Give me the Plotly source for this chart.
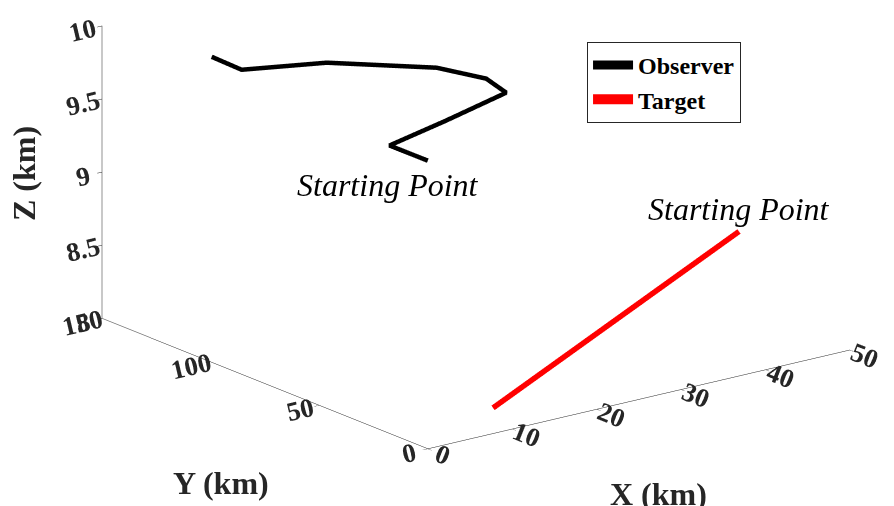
import plotly.graph_objects as go

# Observer trajectory (km), first point = starting point
obs_x = [26.5, 25.1, 31.2, 35.5, 33.9, 29.5, 19.5, 9.9, 7.9]
obs_y = [103.0, 115.2, 113.0, 101.9, 104.9, 110.6, 122.3, 124.2, 130.2]
obs_z = [9.00, 9.05, 9.15, 9.35, 9.45, 9.55, 9.65, 9.72, 9.80]

# Target trajectory (km), first point = starting point
tgt_x = [42.0, 12.5]
tgt_y = [20.0, 18.6]
tgt_z = [8.8, 8.0]

x_ticks = [0, 10, 20, 30, 40, 50]
y_ticks = [0, 50, 100, 150]
z_ticks = [8, 8.5, 9, 9.5, 10]

FONT = "Liberation Serif"
AX = "#262626"

fig = go.Figure()
fig.add_trace(go.Scatter3d(x=obs_x, y=obs_y, z=obs_z, mode="lines",
                           line=dict(color="black", width=9), name="Observer",
                           hoverinfo="skip"))
fig.add_trace(go.Scatter3d(x=tgt_x, y=tgt_y, z=tgt_z, mode="lines",
                           line=dict(color="red", width=11), name="Target",
                           hoverinfo="skip"))

def axis(rng, ticks):
    return dict(
        title=dict(text=""),
        range=rng, tickvals=ticks, ticktext=[("%g" % t) for t in ticks],
        tickfont=dict(family=FONT, size=18, color=AX, weight="bold"),
        showbackground=False, showgrid=False, zeroline=False,
        showline=True, linecolor=AX, linewidth=1,
        ticks="outside", ticklen=6, tickcolor=AX,
        showspikes=False, autorange=False,
    )

S = 2.10
r = 6.0
d = (-0.578, -0.756, 0.306)
c = (-0.1195, -0.0198, -0.2748)
title_font = dict(family=FONT, size=32, color=AX, weight="bold")
fig.update_layout(
    width=894, height=506,
    margin=dict(l=0, r=0, t=0, b=0),
    paper_bgcolor="white",
    scene=dict(
        domain=dict(x=[0, 1], y=[0, 1]),
        xaxis=axis([0, 50], x_ticks),
        yaxis=axis([0, 150], y_ticks),
        zaxis=axis([8, 10], z_ticks),
        aspectmode="manual",
        aspectratio=dict(x=1 * S, y=1.01 * S, z=0.578 * S),
        camera=dict(eye=dict(x=c[0] + d[0] * r, y=c[1] + d[1] * r, z=c[2] + d[2] * r),
                    up=dict(x=0, y=0, z=1),
                    center=dict(x=c[0], y=c[1], z=c[2]),
                    projection=dict(type="orthographic")),
        annotations=[
            dict(x=obs_x[0], y=obs_y[0], z=obs_z[0], text="<i>Starting Point</i>",
                 showarrow=False, xshift=-40, yshift=-24,
                 font=dict(family=FONT, size=32, color="black")),
            dict(x=tgt_x[0], y=tgt_y[0], z=tgt_z[0], text="<i>Starting Point</i>",
                 showarrow=False, xshift=0, yshift=22,
                 font=dict(family=FONT, size=32, color="black")),
        ],
    ),
    annotations=[
        dict(text="X (km)", x=650 / 894, y=1 - 486 / 506, xref="paper", yref="paper",
             showarrow=False, xanchor="center", yanchor="middle", font=title_font),
        dict(text="Y (km)", x=213 / 894, y=1 - 475 / 506, xref="paper", yref="paper",
             showarrow=False, xanchor="center", yanchor="middle", font=title_font),
        dict(text="Z (km)", x=16 / 894, y=1 - 166 / 506, xref="paper", yref="paper",
             showarrow=False, xanchor="center", yanchor="middle", textangle=-90,
             font=title_font),
    ],
    legend=dict(x=0.6477, y=0.9328, xanchor="left", yanchor="top",
                bordercolor=AX, borderwidth=1, bgcolor="white",
                font=dict(family=FONT, size=24, color="black", weight="bold"),
                itemwidth=40),
)

fig.write_html("out.html", config=dict(displayModeBar=False))
